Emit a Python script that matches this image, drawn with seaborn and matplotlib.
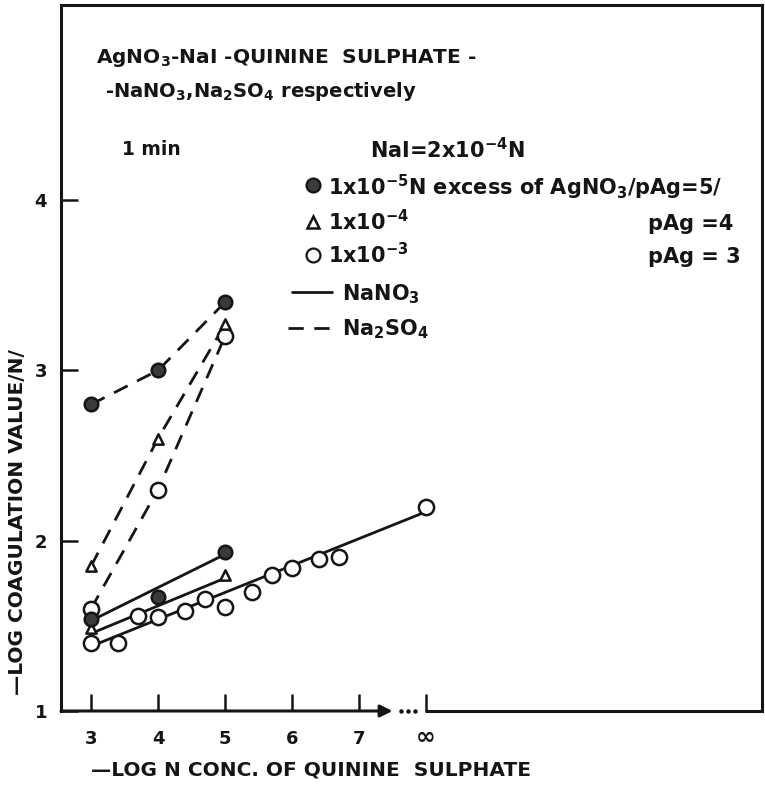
import numpy as np
import pandas as pd
import matplotlib
matplotlib.use("Agg")
import matplotlib.pyplot as plt
import matplotlib.transforms as mtransforms
import seaborn as sns

# ---------------- data ----------------
# x = -log N conc. of quinine sulphate ; "inf" is placed at position 8
xtick_pos = [3, 4, 5, 6, 7, 8]
xtick_lab = ["3", "4", "5", "6", "7", "\u221e"]
ytick_pos = [1, 2, 3, 4]

# Na2SO4 (dashed) series
so4_x = [3, 4, 5]
so4_filled = [2.80, 3.00, 3.40]      # pAg = 5
so4_tri = [1.85, 2.60, 3.27]         # pAg = 4
so4_open = [1.60, 2.30, 3.20]        # pAg = 3

# NaNO3 (solid) series
no3_filled_x = [3, 4, 5]
no3_filled = [1.54, 1.67, 1.935]
no3_tri_x = [3, 5]
no3_tri = [1.49, 1.80]
no3_open_x = [3, 3.4, 3.7, 4, 4.4, 4.7, 5, 5.4, 5.7, 6, 6.4, 6.7, 8]
no3_open = [1.40, 1.40, 1.56, 1.55, 1.59, 1.66, 1.61, 1.70, 1.80, 1.84, 1.89, 1.905, 2.20]

# straight fitted NaNO3 lines (end values)
fit_filled_x = [3, 5]
fit_filled_y = [1.53, 1.92]
fit_tri_x = [3, 5]
fit_tri_y = [1.455, 1.78]
fit_open_x = [3, 8]
fit_open_y = [1.38, 2.17]

# ---------------- figure ----------------
sns.set_theme(style="ticks")
plt.rcParams["font.family"] = ["DejaVu Sans"]
plt.rcParams["mathtext.fontset"] = "dejavusans"
plt.rcParams["mathtext.default"] = "bf"

W, H = 765, 786
fig = plt.figure(figsize=(W / 100, H / 100), dpi=100)
fig.patch.set_facecolor("white")
L, R, B, T = 61, 762, 711, 5
ax = fig.add_axes([L / W, 1 - B / H, (R - L) / W, (B - T) / H])
ax.set_facecolor("white")

x_per_px = 1 / 67.0
y_per_px = 1 / 170.3
ax.set_xlim(3 - (91 - L) * x_per_px, 3 + (R - 91) * x_per_px)
ax.set_ylim(1, 1 + (B - T) * y_per_px)

ink = "#151515"
lw = 2.0
dash = (0, (5.5, 3.8))

def line(xs, ys, ls):
    df = pd.DataFrame({"x": xs, "y": ys})
    sns.lineplot(data=df, x="x", y="y", ax=ax, color=ink, lw=lw, linestyle=ls,
                 sort=False, estimator=None, zorder=2)

def pts(xs, ys, marker, face, size):
    df = pd.DataFrame({"x": xs, "y": ys})
    sns.scatterplot(data=df, x="x", y="y", ax=ax, marker=marker, s=size,
                    facecolor=face, edgecolor=ink, linewidth=1.8, zorder=3)

# dashed Na2SO4 lines
for ys in (so4_filled, so4_tri, so4_open):
    line(so4_x, ys, dash)
# solid NaNO3 fit lines
line(fit_filled_x, fit_filled_y, "-")
line(fit_tri_x, fit_tri_y, "-")
line(fit_open_x, fit_open_y, "-")

# markers
pts(so4_x, so4_open, "o", "white", 120)
pts(no3_open_x, no3_open, "o", "white", 120)
pts(so4_x, so4_tri, "^", "white", 55)
pts(no3_tri_x, no3_tri, "^", "white", 55)
pts(so4_x, so4_filled, "o", "#3a3a3a", 95)
pts(no3_filled_x, no3_filled, "o", "#3a3a3a", 95)

# axes styling
for s in ax.spines.values():
    s.set_color(ink)
    s.set_linewidth(2.2)
ax.spines["bottom"].set_visible(False)
ax.set_xticks(xtick_pos)
ax.set_xticklabels(xtick_lab)
ax.set_yticks(ytick_pos)
ax.set_yticklabels([str(v) for v in ytick_pos])
ax.tick_params(axis="both", direction="in", length=12, width=1.8, color=ink,
               labelsize=13, labelcolor=ink)
ax.tick_params(axis="x", pad=14)
ax.tick_params(axis="y", pad=10)
for t in ax.get_xticklabels() + ax.get_yticklabels():
    t.set_fontweight("bold")
inf_lab = ax.get_xticklabels()[-1]
inf_lab.set_fontsize(17)
inf_lab.set_transform(inf_lab.get_transform() +
                      mtransforms.ScaledTranslation(0, 4 / 72, fig.dpi_scale_trans))

# broken x axis with arrow and dots
ax.annotate("", xy=(7.5, 1), xytext=(ax.get_xlim()[0], 1), xycoords="data",
            arrowprops=dict(arrowstyle="-|>", color=ink, lw=2.2,
                            mutation_scale=18, shrinkA=0, shrinkB=0),
            annotation_clip=False)
ax.plot([7.62, 7.73, 7.84], [1.0, 1.0, 1.0], ls="none", marker="o", ms=2.2,
        color=ink, clip_on=False)
ax.plot([7.98, ax.get_xlim()[1]], [1, 1], color=ink, lw=2.2, clip_on=False,
        solid_capstyle="butt")

ax.set_xlabel("\u2014LOG N CONC. OF QUININE  SULPHATE", fontsize=14.5,
              fontweight="bold", color=ink)
ax.xaxis.set_label_coords((311 - L) / (R - L), (B - 770) / (B - T))
ax.xaxis.label.set_va("center")
ax.set_ylabel("\u2014LOG COAGULATION VALUE/N/", fontsize=14.5, fontweight="bold",
              color=ink)
ax.yaxis.set_label_coords((18 - L) / (R - L), (B - 522) / (B - T))
ax.yaxis.label.set_va("center")

def px(xp, yp):
    return ((xp - L) / (R - L), (B - yp) / (B - T))

def txt(xp, yp, s, size=14):
    ax.text(*px(xp, yp), s, transform=ax.transAxes, fontsize=size,
            fontweight="bold", color=ink, ha="left", va="baseline")

txt(96, 63, "AgNO$_3$-NaI -QUININE  SULPHATE -", 14.5)
txt(105, 97, "-NaNO$_3$,Na$_2$SO$_4$ respectively", 14)
txt(122, 155, "1 min", 13.5)
txt(370, 158, "NaI=2x10$^{-4}$N", 15)
txt(328, 195, "1x10$^{-5}$N excess of AgNO$_3$/pAg=5/", 15)
txt(328, 230, "1x10$^{-4}$", 15)
txt(648, 230, "pAg =4", 15)
txt(328, 263, "1x10$^{-3}$", 15)
txt(648, 263, "pAg = 3", 15)
txt(342, 300, "NaNO$_3$", 15)
txt(342, 335, "Na$_2$SO$_4$", 15)

# legend symbols
ax.plot(*px(313, 185), marker="o", ms=10, mfc="#3a3a3a", mec=ink, mew=1.6,
        transform=ax.transAxes)
ax.plot(*px(313, 222), marker="^", ms=8, mfc="white", mec=ink, mew=1.8,
        transform=ax.transAxes)
ax.plot(*px(313, 255), marker="o", ms=10, mfc="white", mec=ink, mew=1.6,
        transform=ax.transAxes)
x0, y0 = px(292, 292)
x1, _ = px(332, 292)
ax.plot([x0, x1], [y0, y0], color=ink, lw=lw, transform=ax.transAxes)
x0, y0 = px(288, 328)
x1, _ = px(332, 328)
ax.plot([x0, x1], [y0, y0], color=ink, lw=lw, ls=dash,
        transform=ax.transAxes)

fig.savefig("out.png", dpi=100, facecolor="white")
